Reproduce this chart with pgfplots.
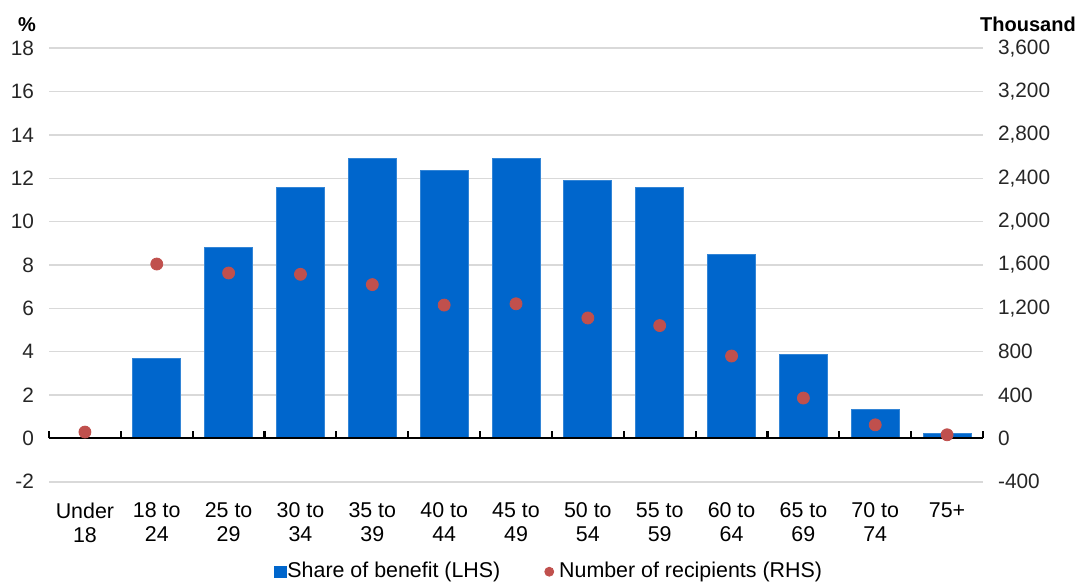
\documentclass[border=0pt]{standalone}
\usepackage{pgfplots}
\pgfplotsset{compat=1.18}
\usepackage{pgfplotstable}
\usepackage{fontspec}
\setmainfont{Liberation Sans}
\definecolor{barblue}{HTML}{0066CC}
\definecolor{dotred}{HTML}{C0504D}
\definecolor{gridgray}{HTML}{D9D9D9}
\definecolor{txt}{HTML}{262626}

\pgfplotstableread{
x share recip
0 0.0 58
1 3.68 1609
2 8.81 1526
3 11.56 1514
4 12.93 1419
5 12.38 1230
6 12.93 1242
7 11.92 1111
8 11.56 1041
9 8.50 760
10 3.86 372
11 1.32 125
12 0.21 33
}\datatable

\begin{document}
\begin{tikzpicture}[font=\fontsize{10.4}{12}\selectfont\color{txt}]
\begin{axis}[
  name=main,
  scale only axis,
  width=467pt, height=216.7pt,
  xmin=-0.5, xmax=12.5,
  ymin=-2, ymax=18,
  axis line style={draw=none},
  axis x line*=bottom,
  axis y line*=left,
  ytick={-2,0,...,18},
  ymajorgrids,
  grid style={gridgray, line width=0.8pt},
  major tick length=0pt,
  yticklabel style={xshift=-4pt},
  /pgf/number format/assume math mode=true,
  xtick={0,...,12},
  xticklabels={{Under\\18},{18 to\\24},{25 to\\29},{30 to\\34},{35 to\\39},{40 to\\44},{45 to\\49},{50 to\\54},{55 to\\59},{60 to\\64},{65 to\\69},{70 to\\74},{75+}},
  xticklabel style={align=center, yshift=-7pt, font=\fontsize{10.7}{12}\selectfont},
  clip=false,
]
\addplot[ybar, bar width=0.668, fill=barblue, draw=barblue!80!white, line width=0.4pt] table[x=x, y=share] {\datatable};
\draw[black, line width=1.1pt] (axis cs:-0.5,0) -- (axis cs:12.5,0);
\pgfplotsinvokeforeach{-0.5,0.5,...,12.5}{
  \draw[black, line width=1.1pt] (axis cs:#1,0) -- (axis cs:#1,0.33);
}
\end{axis}
\begin{axis}[
  scale only axis,
  width=467pt, height=216.7pt,
  xmin=-0.5, xmax=12.5,
  ymin=-400, ymax=3600,
  axis line style={draw=none},
  axis x line=none,
  axis y line*=right,
  ytick={-400,0,...,3600},
  major tick length=0pt,
  yticklabel style={xshift=4pt},
  /pgf/number format/assume math mode=true,
  /pgf/number format/.cd, 1000 sep={,},
  /pgfplots/.cd,
  legend style={at={(0.5,-0.2077)}, xshift=17pt, anchor=center, draw=none, fill=none,
    legend columns=2, font=\fontsize{10.7}{12}\selectfont,
    /tikz/every even column/.append style={column sep=20pt}},
  legend cell align=left,
  clip=false,
]
\addlegendimage{legend image code/.code={\fill[barblue] (0pt,-2.9pt) rectangle (5.8pt,2.9pt);}}
\addlegendentry{\hspace{-1.5pt}Share of benefit (LHS)}
\addlegendimage{legend image code/.code={\fill[dotred] (2.25pt,0pt) circle (2.25pt);}}
\addlegendentry{\hspace{0.5pt}Number of recipients (RHS)}
\addplot[forget plot, only marks, mark=*, mark size=3pt, dotred, mark options={draw=dotred, fill=dotred}] table[x=x, y=recip] {\datatable};
\end{axis}
\node[font=\bfseries\fontsize{10}{12}\selectfont, anchor=center] at ([xshift=-11pt, yshift=12pt]main.north west) {\%};
\node[font=\bfseries\fontsize{10}{12}\selectfont, anchor=center] at ([xshift=22.5pt, yshift=12pt]main.north east) {Thousand};
\pgfresetboundingbox
\path ([xshift=-24.5pt, yshift=24.15pt]main.north west) rectangle ([xshift=50.5pt, yshift=-50.15pt]main.south east);
\end{tikzpicture}
\end{document}
